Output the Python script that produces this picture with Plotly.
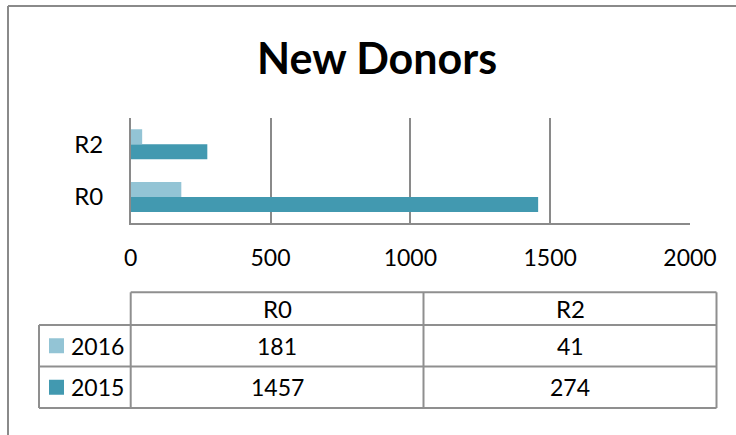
import plotly.graph_objects as go

# ---- data ----
categories = ["R0", "R2"]
series_names = ["2016", "2015"]
values_2016 = [181, 41]
values_2015 = [1457, 274]
x_ticks = [0, 500, 1000, 1500, 2000]

# ---- style ----
W, H = 736, 435
FONT = "Lato"
col_2016 = "#93C4D5"
col_2015 = "#4299B0"
grid_col = "#8A8A8A"

def px(x):
    return x / W

def py(y):
    return 1 - y / H

fig = go.Figure()
fig.add_trace(go.Bar(y=categories, x=values_2015, orientation="h", name=series_names[1],
                     marker=dict(color=col_2015, line=dict(width=0))))
fig.add_trace(go.Bar(y=categories, x=values_2016, orientation="h", name=series_names[0],
                     marker=dict(color=col_2016, line=dict(width=0))))

fig.update_layout(
    template="none",
    width=W, height=H, autosize=False,
    margin=dict(l=0, r=0, t=0, b=0, pad=0),
    paper_bgcolor="white", plot_bgcolor="white",
    showlegend=False,
    barmode="group", bargap=0.43, bargroupgap=0.0,
    font=dict(family=FONT, color="black"),
    xaxis=dict(domain=[px(130.7), px(690)], range=[0, 2000], tickvals=x_ticks,
               showgrid=True, gridcolor=grid_col, gridwidth=1.5,
               showline=True, linecolor=grid_col, linewidth=1.5,
               zeroline=False, ticks="", tickfont=dict(size=23, family=FONT, color="black"),
               ticklabelstandoff=13, automargin=False, fixedrange=True),
    yaxis=dict(domain=[py(223.3), py(118)], categoryorder="array", categoryarray=categories,
               showgrid=False, showline=True, linecolor=grid_col, linewidth=1.5,
               zeroline=False, ticks="", tickfont=dict(size=24, family=FONT, color="black"),
               ticklabelstandoff=21, automargin=False, fixedrange=True),
)

shapes = []
annotations = []

# outer frame
frame_col = "#8A8A8A"
shapes.append(dict(type="line", xref="paper", yref="paper", x0=px(8), x1=px(W + 5), y0=py(6), y1=py(6),
                   line=dict(color=frame_col, width=2)))
shapes.append(dict(type="line", xref="paper", yref="paper", x0=px(8), x1=px(8), y0=py(6), y1=py(H + 5),
                   line=dict(color=frame_col, width=2)))

# title
annotations.append(dict(text="<b>New Donors</b>", xref="paper", yref="paper",
                        x=px(377), y=py(57), showarrow=False, xanchor="center", yanchor="middle",
                        font=dict(size=43, family=FONT, color="black")))

# ---- data table ----
cx = [39, 130.7, 423.5, 716.5]
ry = [292.3, 325, 366.5, 408]
tcol = "#8F8F8F"
tw = 2

def hline(y, x0, x1):
    shapes.append(dict(type="line", xref="paper", yref="paper", x0=px(x0), x1=px(x1),
                       y0=py(y), y1=py(y), line=dict(color=tcol, width=tw)))

def vline(x, y0, y1):
    shapes.append(dict(type="line", xref="paper", yref="paper", x0=px(x), x1=px(x),
                       y0=py(y0), y1=py(y1), line=dict(color=tcol, width=tw)))

hline(ry[0], cx[1], cx[3])
for y in ry[1:]:
    hline(y, cx[0], cx[3])
vline(cx[0], ry[1], ry[3])
for x in cx[1:]:
    vline(x, ry[0], ry[3])

# header labels
for j, cat in enumerate(categories):
    xc = (cx[1 + j] + cx[2 + j]) / 2
    annotations.append(dict(text=cat, xref="paper", yref="paper", x=px(xc), y=py((ry[0] + ry[1]) / 2),
                            showarrow=False, xanchor="center", yanchor="middle",
                            font=dict(size=24, family=FONT, color="black")))

rows = [(series_names[0], values_2016, col_2016), (series_names[1], values_2015, col_2015)]
for i, (name, vals, col) in enumerate(rows):
    yc = (ry[1 + i] + ry[2 + i]) / 2
    shapes.append(dict(type="rect", xref="paper", yref="paper", x0=px(49), x1=px(64),
                       y0=py(yc - 7.5), y1=py(yc + 7.5), fillcolor=col, line=dict(width=0)))
    annotations.append(dict(text=name, xref="paper", yref="paper", x=px(69), y=py(yc),
                            showarrow=False, xanchor="left", yanchor="middle",
                            font=dict(size=23, family=FONT, color="black")))
    for j, v in enumerate(vals):
        xc = (cx[1 + j] + cx[2 + j]) / 2
        annotations.append(dict(text=str(v), xref="paper", yref="paper", x=px(xc), y=py(yc),
                                showarrow=False, xanchor="center", yanchor="middle",
                                font=dict(size=23, family=FONT, color="black")))

fig.update_layout(shapes=shapes, annotations=annotations)
fig.write_html("out.html", config={"displayModeBar": False},
               post_script="document.body.style.margin='0';document.body.style.overflow='hidden';")
